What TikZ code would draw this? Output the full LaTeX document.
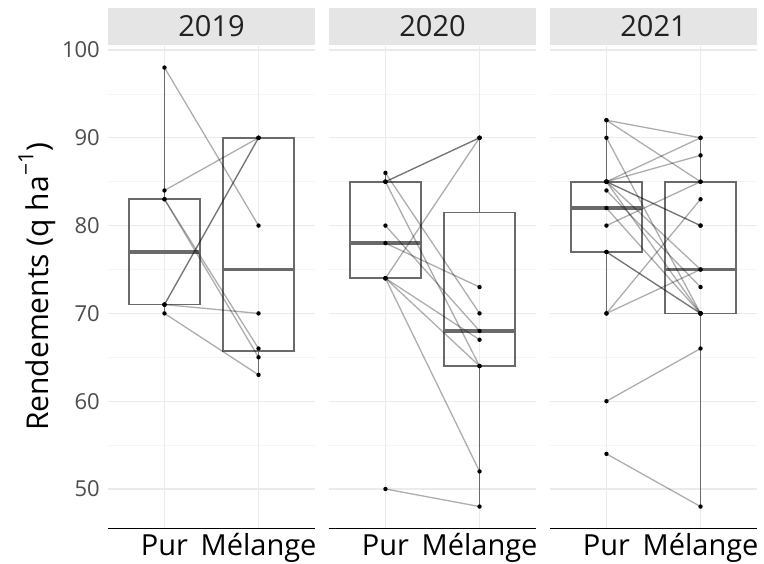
\documentclass[tikz,border=0pt]{standalone}
\usepackage{fontspec}
\setmainfont{Open Sans}
\definecolor{gridmaj}{HTML}{EBEBEB}
\definecolor{gridmin}{HTML}{F5F5F5}
\definecolor{stripfill}{HTML}{E5E5E5}
\definecolor{ticktext}{HTML}{4D4D4D}
\definecolor{boxcol}{HTML}{6A6A6A}
\tikzset{
  majgrid/.style={gridmaj,line width=1.1pt},
  mingrid/.style={gridmin,line width=0.6pt},
  boxline/.style={boxcol,line width=1.7pt},
  medline/.style={boxcol,line width=3.4pt},
  pairline/.style={black,opacity=0.32,line width=1.3pt},
  ticklab/.style={ticktext,anchor=east,inner sep=0pt,font=\fontsize{22}{22}\selectfont},
  xlab/.style={black,anchor=base,inner sep=0pt,font=\fontsize{29}{29}\selectfont},
  striplab/.style={black!87,inner sep=0pt,font=\fontsize{29}{29}\selectfont}
}
% frame of one facet: grid, strip, axis line, labels
\newcommand\facetframe[1]{%
  \foreach \v in {55,65,...,95} \draw[mingrid] (0.4,\v) -- (2.6,\v);
  \foreach \v in {50,60,...,100} \draw[majgrid] (0.4,\v) -- (2.6,\v);
  \foreach \p in {1,2} \draw[majgrid] (\p,45.5) -- (\p,100.5);
  \fill[stripfill] (0.4,100.6) rectangle (2.6,104.8);
  \node[striplab] (strip#1) at (1.5,102.7) {#1};
  \draw[black,line width=1.2pt] (0.4,45.5) -- (2.6,45.5);
  \node[xlab] (pur#1) at (1,42.4) {Pur};
  \node[xlab] (mel#1) at (2,42.4) {Mélange};
}
% box: position, lower whisker, q1, median, q3, upper whisker
\newcommand\boxplt[6]{%
  \draw[boxline] (#1,#2) -- (#1,#3) (#1,#5) -- (#1,#6);
  \draw[boxline] ({#1-0.375},#3) rectangle ({#1+0.375},#5);
  \draw[medline] ({#1-0.375},#4) -- ({#1+0.375},#4);
}
\newcommand\pairs[1]{%
  \foreach \a/\b in {#1} \draw[pairline] (1,\a) -- (2,\b);
  \foreach \a/\b in {#1} {\fill (1,\a) circle (2.2pt); \fill (2,\b) circle (2.2pt);}
}

\begin{document}
\begin{tikzpicture}[x=1pt,y=1pt]
\useasboundingbox (0,0) rectangle (764,564);
\fill[white] (0,0) rectangle (764,564);

% tick labels
\foreach \v in {50,60,...,100}
  \node[ticklab] (tick\v) at (100,{8.78*\v-364}) {\v};
\node[rotate=90,font=\fontsize{30}{30}\selectfont] (ytitle) at (37,277)
  {Rendements (q ha\raisebox{0.5em}{\fontsize{21}{21}\selectfont −1})};

% 2019
\begin{scope}[xshift=70.36pt,x=94.09pt,y=8.78pt,yshift=-364pt]
  \facetframe{2019}
  \boxplt{1}{70}{71}{77}{83}{98}
  \boxplt{2}{63}{65.75}{75}{90}{90}
  \pairs{98/80,84/90,71/90,71/90,71/70,70/63,83/65,83/66}
\end{scope}

% 2020
\begin{scope}[xshift=291.36pt,x=94.09pt,y=8.78pt,yshift=-364pt]
  \facetframe{2020}
  \boxplt{1}{74}{74}{78}{85}{86}
  \boxplt{2}{48}{64}{68}{81.5}{90}
  \pairs{50/48,74/90,85/90,85/90,78/73,80/68,86/70,85/64,74/67,74/64,74/52}
\end{scope}

% 2021
\begin{scope}[xshift=512.36pt,x=94.09pt,y=8.78pt,yshift=-364pt]
  \facetframe{2021}
  \boxplt{1}{70}{77}{82}{85}{92}
  \boxplt{2}{48}{70}{75}{85}{90}
  \pairs{92/90,92/85,90/70,85/90,85/88,85/80,85/80,85/70,85/75,84/73,82/70,80/85,77/70,77/70,70/83,70/75,60/66,54/48}
\end{scope}
\end{tikzpicture}
\end{document}
